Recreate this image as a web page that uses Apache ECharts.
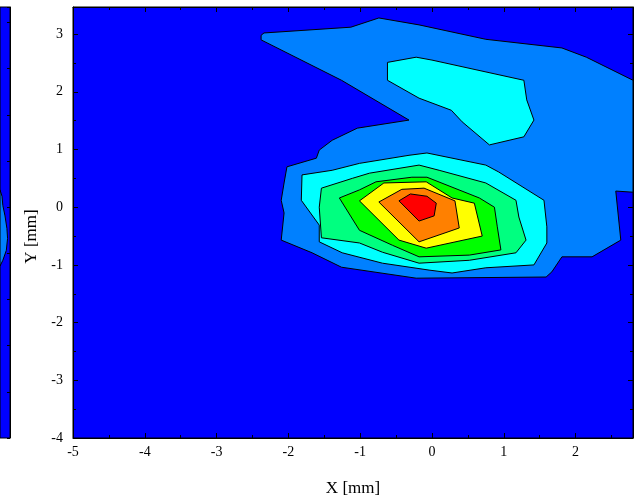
<!DOCTYPE html>
<html>
<head>
<meta charset="utf-8">
<script src="https://cdn.jsdelivr.net/npm/echarts@6/dist/echarts.min.js"></script>
<style>
html,body{margin:0;padding:0;background:#fff;}
#chart{width:635px;height:497px;}
</style>
</head>
<body>
<div id="chart"></div>
<script>
// ---- data (mm) ----
const xTicks = [-5, -4, -3, -2, -1, 0, 1, 2];
const yTicks = [-4, -3, -2, -1, 0, 1, 2, 3];
const levelNames = ['L0', 'L1', 'L2', 'L3', 'L4', 'L5', 'L6', 'L7'];
const levelColors = ['#0000ff', '#0080ff', '#00ffff', '#00ff80', '#00ff00', '#ffff00', '#ff8000', '#ff0000'];

const level1Outline = [[-2.38,2.98],[-2.34,3.02],[-1.13,3.12],[-0.74,3.28],[-0.18,3.16],[0.75,2.91],[1.81,2.76],[2.15,2.60],[2.80,2.20],[2.80,0.26],[2.56,0.28],[2.63,-0.57],[2.23,-0.86],[1.81,-0.86],[1.67,-1.12],[1.59,-1.21],[-0.22,-1.23],[-1.26,-1.04],[-1.67,-0.79],[-2.10,-0.57],[-2.06,-0.10],[-2.10,0.12],[-2.06,0.42],[-2.02,0.70],[-1.61,0.85],[-1.57,0.99],[-1.39,1.16],[-1.04,1.37],[-0.32,1.51],[-1.26,2.20],[-2.38,2.90]];
const level2Upper = [[-0.62,2.51],[-0.22,2.60],[0.00,2.55],[1.28,2.20],[1.32,1.86],[1.42,1.51],[1.28,1.22],[0.80,1.08],[0.42,1.48],[0.27,1.68],[-0.18,1.89],[-0.62,2.20]];
const level2Lower = [[-1.81,0.56],[-1.39,0.64],[-1.01,0.76],[-0.32,0.90],[-0.07,0.94],[0.75,0.73],[0.93,0.61],[1.56,0.12],[1.60,-0.34],[1.60,-0.62],[1.42,-1.00],[0.75,-1.05],[0.28,-1.14],[-0.04,-1.09],[-0.69,-0.97],[-1.25,-0.79],[-1.57,-0.60],[-1.57,-0.31],[-1.82,0.12]];
const level3Outline = [[-1.54,0.33],[-1.11,0.50],[-0.87,0.59],[-0.18,0.73],[0.10,0.64],[0.75,0.42],[1.17,0.12],[1.21,-0.17],[1.31,-0.57],[1.17,-0.79],[0.52,-0.92],[-0.18,-0.97],[-0.69,-0.78],[-1.01,-0.62],[-1.54,-0.53],[-1.57,0.00]];
const level4Outline = [[-1.29,0.16],[-1.01,0.30],[-0.78,0.44],[-0.28,0.52],[-0.07,0.52],[0.66,0.16],[0.87,0.00],[0.91,-0.34],[0.96,-0.74],[0.52,-0.83],[-0.18,-0.86],[-0.55,-0.66],[-1.01,-0.40]];
const level5Outline = [[-1.01,0.11],[-0.67,0.42],[-0.08,0.44],[0.28,0.16],[0.59,0.07],[0.70,-0.50],[-0.08,-0.71],[-0.46,-0.57]];
const level6Outline = [[-0.74,0.09],[-0.42,0.31],[-0.11,0.33],[0.32,0.11],[0.38,-0.36],[-0.18,-0.60]];
const level7Outline = [[-0.46,0.11],[-0.30,0.23],[-0.07,0.19],[0.06,0.07],[0.03,-0.15],[-0.18,-0.24]];
// neighbouring (cropped) panel on the left
const leftPanelBlob = [[2.66,0.30],[2.688,0.19],[2.70,0.03],[2.73,-0.15],[2.757,-0.37],[2.766,-0.54],[2.748,-0.75],[2.70,-0.92],[2.66,-1.02]];

// ---- assembly ----
const mainPolys = [
  { pts: level1Outline, level: 1 },
  { pts: level2Upper, level: 2 },
  { pts: level2Lower, level: 2 },
  { pts: level3Outline, level: 3 },
  { pts: level4Outline, level: 4 },
  { pts: level5Outline, level: 5 },
  { pts: level6Outline, level: 6 },
  { pts: level7Outline, level: 7 }
];
const leftPolys = [{ pts: leftPanelBlob, level: 1 }];

function makeRender(list) {
  return function (params, api) {
    const p = list[api.value(2)];
    const points = p.pts.map(function (v) { return api.coord(v); });
    return {
      type: 'polygon',
      shape: { points: points },
      style: { fill: levelColors[p.level], stroke: '#000', lineWidth: 1 }
    };
  };
}

const FONT = 'Liberation Serif';
const lineStyle = { color: '#000', width: 1 };

const chart = echarts.init(document.getElementById('chart'), null, { renderer: 'canvas' });
chart.setOption({
  animation: false,
  backgroundColor: '#fff',
  grid: [
    { left: 0, right: 625, top: 7, bottom: 59, show: true, backgroundColor: levelColors[0], borderColor: '#000', borderWidth: 1, containLabel: false, outerBoundsMode: 'none' },
    { left: 73, right: 2, top: 7, bottom: 59, show: true, backgroundColor: levelColors[0], borderColor: '#000', borderWidth: 1, containLabel: false, outerBoundsMode: 'none' }
  ],
  xAxis: [
    { type: 'value', gridIndex: 0, min: 2.66, max: 2.8, show: false },
    {
      type: 'value', gridIndex: 1, position: 'bottom', min: -5, max: 2.8, interval: 1,
      name: 'X [mm]', nameLocation: 'middle', nameGap: 42,
      nameTextStyle: { fontFamily: FONT, fontSize: 17, color: '#000' },
      axisLine: { show: true, lineStyle: lineStyle, onZero: false },
      axisTick: { show: true, inside: true, length: 5, lineStyle: lineStyle },
      minorTick: { show: true, splitNumber: 2, length: 3, lineStyle: lineStyle },
      axisLabel: { fontFamily: FONT, fontSize: 14, color: '#000', margin: 7, showMaxLabel: false,
        formatter: function (v) { return xTicks.indexOf(v) >= 0 ? String(v) : ''; } },
      splitLine: { show: false }
    },
    {
      type: 'value', gridIndex: 1, position: 'top', min: -5, max: 2.8, interval: 1,
      axisLine: { show: true, lineStyle: lineStyle, onZero: false },
      axisTick: { show: true, inside: true, length: 5, lineStyle: lineStyle },
      minorTick: { show: true, splitNumber: 2, length: 3, lineStyle: lineStyle },
      axisLabel: { show: false },
      splitLine: { show: false }
    }
  ],
  yAxis: [
    {
      type: 'value', gridIndex: 0, position: 'right', min: -4, max: 3.47, interval: 0.8,
      axisLine: { show: true, lineStyle: lineStyle, onZero: false },
      axisTick: { show: true, inside: true, length: 3, lineStyle: lineStyle },
      axisLabel: { show: false },
      splitLine: { show: false }
    },
    {
      type: 'value', gridIndex: 1, position: 'left', min: -4, max: 3.47, interval: 1,
      name: 'Y [mm]', nameLocation: 'middle', nameGap: 30, nameRotate: 90,
      nameTextStyle: { fontFamily: FONT, fontSize: 17, color: '#000', padding: [0, 28, 0, 0] },
      axisLine: { show: true, lineStyle: lineStyle, onZero: false },
      axisTick: { show: true, inside: true, length: 5, lineStyle: lineStyle },
      minorTick: { show: true, splitNumber: 2, length: 3, lineStyle: lineStyle },
      axisLabel: { fontFamily: FONT, fontSize: 14, color: '#000', margin: 10, showMaxLabel: false,
        formatter: function (v) { return yTicks.indexOf(v) >= 0 ? String(v) : ''; } },
      splitLine: { show: false }
    },
    {
      type: 'value', gridIndex: 1, position: 'right', min: -4, max: 3.47, interval: 1,
      axisLine: { show: true, lineStyle: lineStyle, onZero: false },
      axisTick: { show: true, inside: true, length: 5, lineStyle: lineStyle },
      minorTick: { show: true, splitNumber: 2, length: 3, lineStyle: lineStyle },
      axisLabel: { show: false },
      splitLine: { show: false }
    }
  ],
  series: [
    {
      type: 'custom', name: 'left panel', xAxisIndex: 0, yAxisIndex: 0,
      renderItem: makeRender(leftPolys),
      data: leftPolys.map(function (p, i) { return [p.pts[0][0], p.pts[0][1], i]; }),
      silent: true, z: 2
    },
    {
      type: 'custom', name: 'contours', xAxisIndex: 1, yAxisIndex: 1,
      renderItem: makeRender(mainPolys),
      data: mainPolys.map(function (p, i) { return [p.pts[0][0], p.pts[0][1], i]; }),
      silent: true, z: 2
    }
  ]
});
</script>
</body>
</html>
